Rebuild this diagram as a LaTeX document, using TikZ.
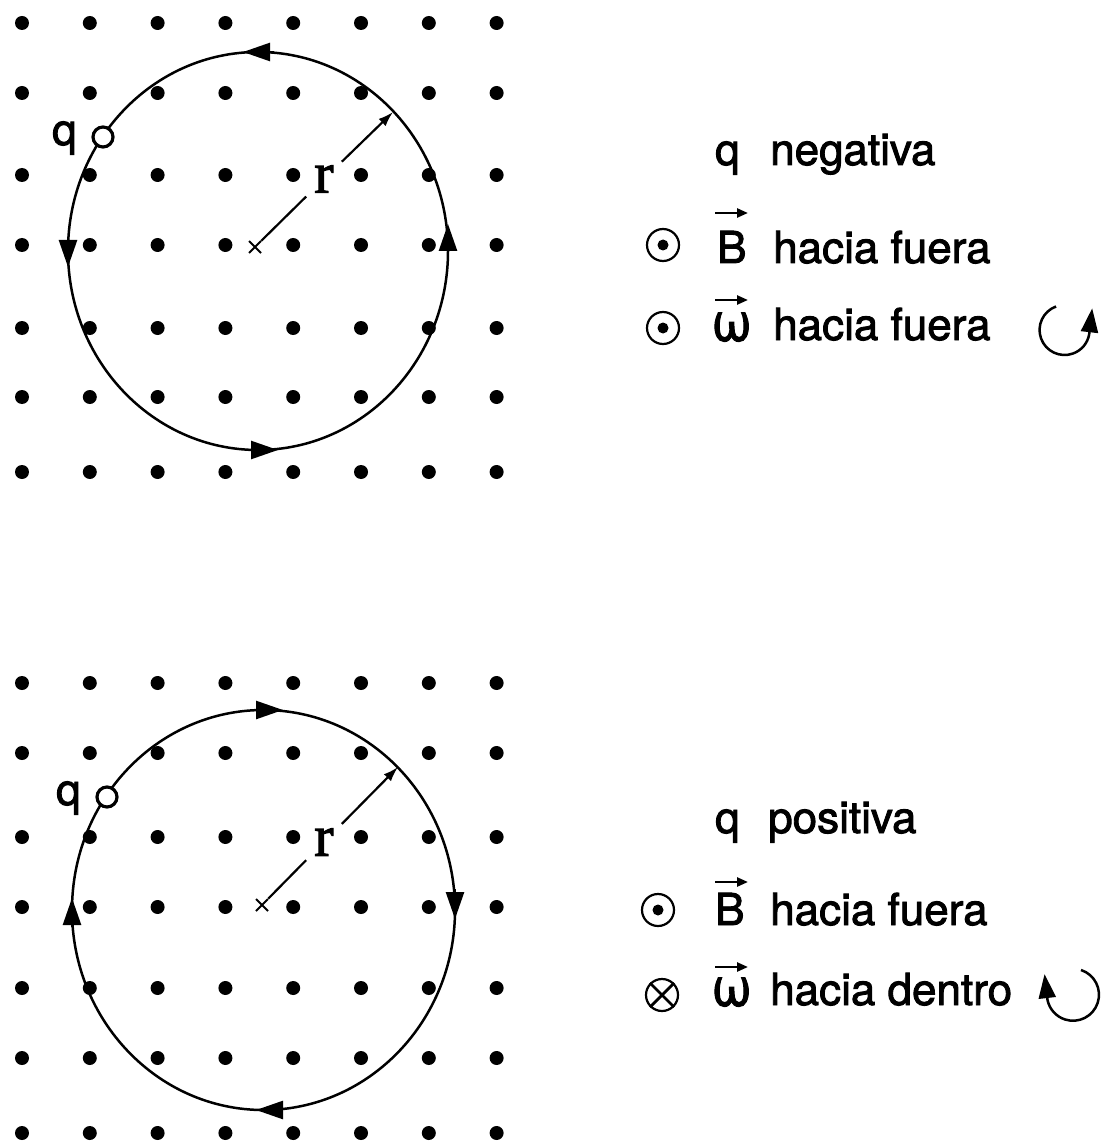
\documentclass[tikz,border=0pt]{standalone}
\usepackage{fontspec}
\setmainfont{TeX Gyre Heros}[FakeBold=2]
\newfontfamily\rfont{Liberation Serif}[FakeBold=2]
\usetikzlibrary{arrows.meta}
\begin{document}
\begin{tikzpicture}[x=1pt,y=-1pt,
  orbit/.style={draw=black,line width=2.5pt},
  orbittip/.style={-{Triangle[length=27pt,width=18pt]},line width=2.5pt},
  radline/.style={line width=2.2pt},
  radtip/.style={line width=2.2pt,-{Latex[length=15pt,width=10pt]}},
  cross/.style={line width=1.8pt},
  lbl/.style={anchor=base west,inner sep=0pt,font=\fontsize{44}{48}\selectfont},
  omg/.style={anchor=base west,inner sep=0pt,font=\fontsize{54}{58}\selectfont},
  rlabel/.style={inner xsep=8pt,inner ysep=6pt,font=\rfont\fontsize{58}{60}\selectfont},
  charge/.style={circle,draw,line width=3.2pt,fill=white,minimum size=20pt,inner sep=0pt},
  fieldsym/.style={circle,draw,line width=2.2pt,minimum size=32pt,inner sep=0pt},
  vecarrow/.style={line width=2.4pt,-{Triangle[length=11pt,width=9pt]}},
  rotarrow/.style={line width=2.5pt,-{Triangle[length=24pt,width=17pt]}}
]
\useasboundingbox (0,0) rectangle (1106,1147);

% dot grids
\foreach \yy in {23,93,175,245,328,397,472,683,753,837,907,988,1058,1133}
  \foreach \i in {0,...,7}
    \fill ({22+67.8*\i},\yy) circle[radius=7pt];

% ---------- top panel ----------
\coordinate (c1) at (258,251);
\draw[orbit] (c1) ellipse[x radius=190pt,y radius=199pt];
\draw[orbittip] (274,52) -- (243,52);
\draw[orbittip] (68,238) -- (68,267);
\draw[orbittip] (247,450) -- (278,450);
\draw[orbittip] (448,258) -- (448,224);

\coordinate (x1) at (255,247);
\draw[cross] (249,241) -- (261,253) (249,253) -- (261,241);
\coordinate (e1) at (393,112);
\node[rlabel] (r1) at (324,179) {r};
\draw[radline,shorten <=9pt] (x1) -- (r1);
\draw[radtip] (r1) -- (e1);

\node[lbl] (q1) at (52,145) {q};
\node[charge] (p1) at (103,137) {};

% legend top
\node[lbl] (lq1) at (715,165) {q};
\node[lbl] (ln1) at (770,165) {negativa};
\node[fieldsym] (s1) at (663,245) {};
\fill (s1.center) circle[radius=5.5pt];
\node[lbl] (B1) at (717,263) {B};
\draw[vecarrow] (715,213) -- (748,213);
\node[lbl] (h1) at (773,263) {hacia fuera};
\node[fieldsym] (s2) at (663,328) {};
\fill (s2.center) circle[radius=5.5pt];
\node[omg] (w1) at (711,341) {ω};
\draw[vecarrow] (715,300) -- (748,300);
\node[lbl] (h2) at (773,340) {hacia fuera};
\draw[rotarrow] (1056,306.5) arc[start angle=110,end angle=350,radius=25pt] -- ++(3,-26);

% ---------- bottom panel ----------
\coordinate (c2) at (263.5,910);
\draw[orbit] (c2) ellipse[x radius=191.5pt,y radius=200pt];
\draw[orbittip] (251,710) -- (283,710);
\draw[orbittip] (455,889) -- (455,919);
\draw[orbittip] (283,1110) -- (256,1110);
\draw[orbittip] (72,927) -- (72,898);

\coordinate (x2) at (262,905);
\draw[cross] (256,899) -- (268,911) (256,911) -- (268,899);
\coordinate (e2) at (398,767);
\node[rlabel] (r2) at (324,842) {r};
\draw[radline,shorten <=9pt] (x2) -- (r2);
\draw[radtip] (r2) -- (e2);

\node[lbl] (q2) at (56,805) {q};
\node[charge] (p2) at (107,797) {};

% legend bottom
\node[lbl] (lq2) at (715,833) {q};
\node[lbl] (lp2) at (768,833) {positiva};
\node[fieldsym] (s3) at (658,910) {};
\fill (s3.center) circle[radius=5.5pt];
\node[lbl] (B2) at (715,925) {B};
\draw[vecarrow] (715,882) -- (748,882);
\node[lbl] (h3) at (770,925) {hacia fuera};
\node[fieldsym] (s4) at (662,995) {};
\draw[line width=2.8pt] (s4.45) -- (s4.225) (s4.135) -- (s4.315);
\node[omg] (w2) at (711,1006) {ω};
\draw[vecarrow] (715,967) -- (748,967);
\node[lbl] (h4) at (770,1005) {hacia dentro};
\draw[rotarrow] (1081,970) arc[start angle=72,end angle=-168,radius=26pt] -- ++(-3,-26);
\end{tikzpicture}
\end{document}
